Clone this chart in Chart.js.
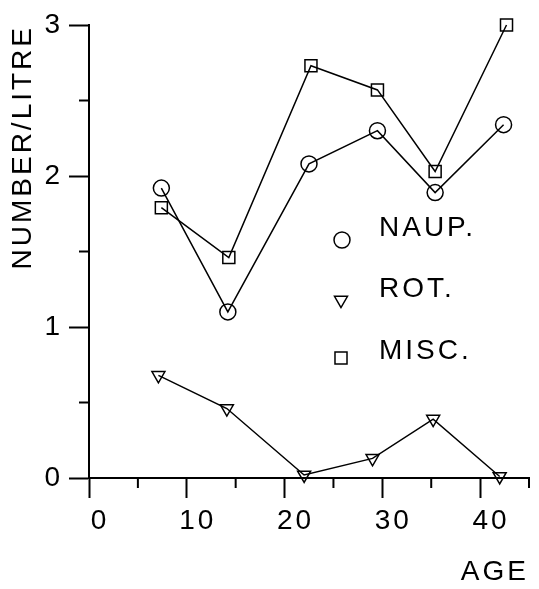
<!DOCTYPE html>
<html><head><meta charset="utf-8">
<script src="https://cdn.jsdelivr.net/npm/chart.js@4/dist/chart.umd.min.js"></script>
<style>html,body{margin:0;padding:0;background:#fff}#wrap{width:539px;height:589px;position:relative}</style>
</head><body><div id="wrap"><canvas id="c"></canvas></div>
<script>
const seriesNames = ['NAUP.', 'ROT.', 'MISC.'];
const naupAge = [7.4, 14.2, 22.5, 29.5, 35.4, 42.4];
const naupValues = [1.92, 1.10, 2.08, 2.30, 1.89, 2.34];
const rotAge = [7.1, 14.1, 22.0, 29.0, 35.2, 42.0];
const rotValues = [0.68, 0.46, 0.02, 0.13, 0.39, 0.01];
const miscAge = [7.4, 14.3, 22.7, 29.5, 35.4, 42.7];
const miscValues = [1.79, 1.46, 2.73, 2.57, 2.03, 3.00];
const xTickLabels = [0, 10, 20, 30, 40];
const yTickLabels = [0, 1, 2, 3];
const xTitle = 'AGE';
const yTitle = 'NUMBER/LITRE';

const FONT = "'Liberation Sans', Arial, sans-serif";
const pts = (xs, ys) => xs.map((x, i) => ({x, y: ys[i]}));

const spacingPlugin = {
  id: 'spacing',
  beforeLayout(chart) { chart.ctx.letterSpacing = '3px'; },
  beforeDraw(chart) { chart.ctx.letterSpacing = '3px'; }
};

const minorTicks = {
  id: 'minorTicks',
  afterDraw(chart) {
    const ctx = chart.ctx;
    ctx.save();
    ctx.strokeStyle = '#000';
    ctx.lineWidth = 2;
    const xs = chart.scales.x, ys = chart.scales.y;
    xs.ticks.forEach(t => {
      if (!xTickLabels.includes(t.value)) {
        const px = xs.getPixelForValue(t.value);
        ctx.beginPath(); ctx.moveTo(px, xs.top); ctx.lineTo(px, xs.top + 10); ctx.stroke();
      }
    });
    ys.ticks.forEach(t => {
      if (!yTickLabels.includes(t.value)) {
        const py = ys.getPixelForValue(t.value);
        ctx.beginPath(); ctx.moveTo(ys.right, py); ctx.lineTo(ys.right - 10, py); ctx.stroke();
      }
    });
    ctx.restore();
  }
};

const legendPos = [{mx: 342, my: 240, tx: 379, ty: 228}, {mx: 341, my: 300, tx: 379, ty: 289}, {mx: 341, my: 358, tx: 379, ty: 351}];
const customLegend = {
  id: 'customLegend',
  afterDraw(chart) {
    const ctx = chart.ctx;
    ctx.save();
    ctx.letterSpacing = '3px';
    chart.data.datasets.forEach((ds, i) => {
      const p = legendPos[i];
      ctx.strokeStyle = '#000';
      ctx.fillStyle = 'rgba(0,0,0,0)';
      ctx.lineWidth = 1.5;
      Chart.helpers.drawPoint(ctx, {pointStyle: ds.pointStyle, radius: ds.pointRadius, rotation: ds.pointRotation || 0, borderWidth: 1.5}, p.mx, p.my);
      ctx.fillStyle = '#000';
      ctx.font = '28px ' + FONT;
      ctx.textBaseline = 'middle';
      ctx.textAlign = 'left';
      ctx.fillText(ds.label, p.tx, p.ty);
    });
    ctx.restore();
  }
};

const common = {
  borderColor: '#000', borderWidth: 1.5, pointBorderColor: '#000',
  pointBackgroundColor: 'rgba(0,0,0,0)', pointBorderWidth: 1.5,
  showLine: true, fill: false, tension: 0, pointHoverRadius: 8, clip: false
};

new Chart(document.getElementById('c'), {
  type: 'scatter',
  data: {
    datasets: [
      Object.assign({label: seriesNames[0], data: pts(naupAge, naupValues), pointStyle: 'circle', pointRadius: 8}, common),
      Object.assign({label: seriesNames[1], data: pts(rotAge, rotValues), pointStyle: 'triangle', pointRadius: 7.5, pointRotation: 180}, common),
      Object.assign({label: seriesNames[2], data: pts(miscAge, miscValues), pointStyle: 'rect', pointRadius: 8.5}, common)
    ]
  },
  options: {
    responsive: true, maintainAspectRatio: false, animation: false,
    layout: {padding: {top: 25, right: 2, bottom: 0, left: 0}},
    plugins: {legend: {display: false}, tooltip: {enabled: false}},
    scales: {
      x: {
        type: 'linear', min: 0, max: 45,
        afterFit: s => { s.height = 111; },
        border: {display: true, color: '#000', width: 2},
        grid: {drawOnChartArea: false, drawTicks: true, tickLength: 20, tickWidth: 2,
          tickColor: c => xTickLabels.includes(c.tick.value) ? '#000' : 'rgba(0,0,0,0)'},
        ticks: {stepSize: 5, autoSkip: false, maxRotation: 0, color: '#000', padding: 6, labelOffset: 11,
          font: {family: FONT, size: 28},
          callback: v => xTickLabels.includes(v) ? String(v) : ''},
        title: {display: true, text: xTitle, align: 'end', color: '#000', font: {family: FONT, size: 28}, padding: {top: 0, bottom: 0}}
      },
      y: {
        type: 'linear', min: 0, max: 3,
        afterFit: s => { s.width = 89; },
        border: {display: true, color: '#000', width: 2},
        grid: {drawOnChartArea: false, drawTicks: true, tickLength: 20, tickWidth: 2,
          tickColor: c => yTickLabels.includes(c.tick.value) ? '#000' : 'rgba(0,0,0,0)'},
        ticks: {stepSize: 0.5, autoSkip: false, color: '#000', padding: 6,
          font: {family: FONT, size: 28},
          callback: v => yTickLabels.includes(v) ? String(v) : ''},
        title: {display: true, text: yTitle, align: 'end', color: '#000', font: {family: FONT, size: 28}, padding: {top: 6, bottom: 0}}
      }
    }
  },
  plugins: [spacingPlugin, minorTicks, customLegend]
});
</script>
</body></html>
